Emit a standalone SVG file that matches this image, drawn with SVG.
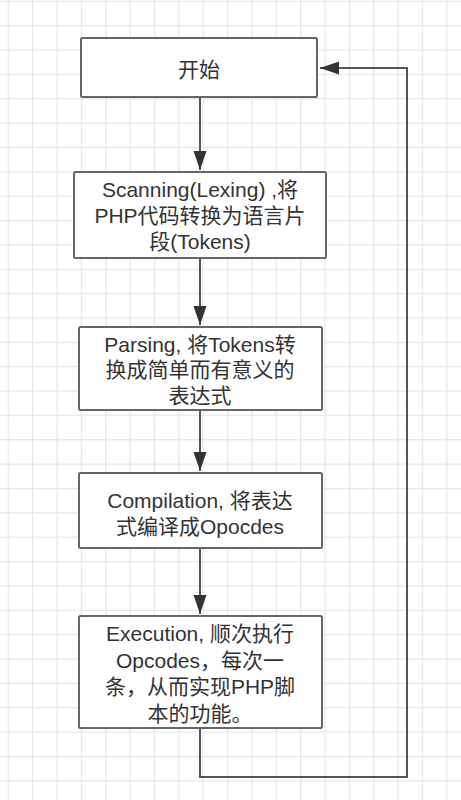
<svg xmlns="http://www.w3.org/2000/svg" width="461" height="800" viewBox="0 0 461 800">
<style>
.box{fill:#ffffff;stroke:#666666;stroke-width:2}
.lbl{font-family:"Liberation Sans","Noto Sans CJK SC",sans-serif;font-size:21px;fill:#333333;text-anchor:middle}
.edge{fill:none;stroke:#555555;stroke-width:2}
</style>
<defs>
<pattern id="grid" patternUnits="userSpaceOnUse" x="7.7" y="0.7" width="24.36" height="24.36">
<path d="M0.6 0V24.36M0 0.6H24.36" stroke="#e6e6e6" stroke-width="1.3" fill="none"/>
</pattern>
<marker id="arr" markerUnits="userSpaceOnUse" markerWidth="20" markerHeight="14" refX="19" refY="7" orient="auto">
<path d="M0 0.5L19 7L0 13.5Z" fill="#333333"/>
</marker>
</defs>
<rect width="461" height="800" fill="#ffffff"/>
<rect width="461" height="800" fill="url(#grid)"/>
<g id="connectors">
<path class="edge" d="M200 97V170" marker-end="url(#arr)"/>
<path class="edge" d="M200 258V325" marker-end="url(#arr)"/>
<path class="edge" d="M200 410V471" marker-end="url(#arr)"/>
<path class="edge" d="M200 548V614" marker-end="url(#arr)"/>
<path class="edge" d="M200 728V777H407V68H320" marker-end="url(#arr)"/>
</g>
<g id="start">
<rect class="box" x="81" y="38" width="236" height="59" rx="1.5"/>
<text class="lbl" x="199" y="76.5">开始</text>
</g>
<g id="scanning">
<rect class="box" x="74" y="172" width="252" height="86" rx="1.5"/>
<text class="lbl" x="200" y="197">Scanning(Lexing) ,将</text>
<text class="lbl" x="200" y="223">PHP代码转换为语言片</text>
<text class="lbl" x="200" y="249">段(Tokens)</text>
</g>
<g id="parsing">
<rect class="box" x="79" y="327" width="243" height="83" rx="1.5"/>
<text class="lbl" x="200" y="351.5">Parsing, 将Tokens转</text>
<text class="lbl" x="200" y="377">换成简单而有意义的</text>
<text class="lbl" x="200" y="402.5">表达式</text>
</g>
<g id="compilation">
<rect class="box" x="79" y="473" width="243" height="75" rx="1.5"/>
<text class="lbl" x="200" y="507.5">Compilation, 将表达</text>
<text class="lbl" x="200" y="534">式编译成Opocdes</text>
</g>
<g id="execution">
<rect class="box" x="79" y="616" width="243" height="112" rx="1.5"/>
<text class="lbl" x="200" y="641">Execution, 顺次执行</text>
<text class="lbl" x="200" y="667.5">Opcodes，每次一</text>
<text class="lbl" x="200" y="694">条，从而实现PHP脚</text>
<text class="lbl" x="200" y="720.5">本的功能。</text>
</g>
</svg>
